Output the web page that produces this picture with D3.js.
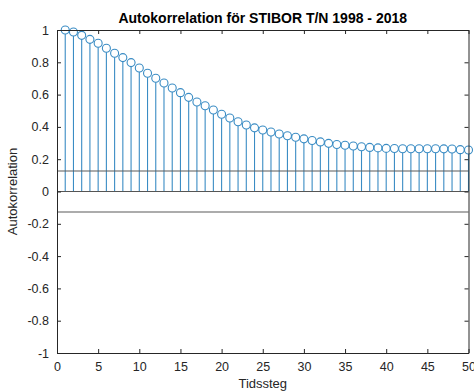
<!DOCTYPE html>
<html>
<head>
<meta charset="utf-8">
<script src="https://cdn.jsdelivr.net/npm/d3@7"></script>
<style>
  html, body { margin: 0; padding: 0; background: #fff; }
  svg { display: block; font-family: "Liberation Sans", Arial, sans-serif; }
</style>
</head>
<body>
<svg id="chart" width="474" height="392"></svg>
<script>
// Sample autocorrelation of STIBOR T/N, index 1..50
const lags = d3.range(1, 51);
const acf = [
  1.000, 0.988, 0.967, 0.942, 0.918, 0.887, 0.856, 0.829, 0.798, 0.765,
  0.732, 0.701, 0.672, 0.641, 0.612, 0.583, 0.554, 0.531, 0.505, 0.478,
  0.455, 0.432, 0.412, 0.394, 0.381, 0.368, 0.356, 0.345, 0.336, 0.326,
  0.316, 0.307, 0.298, 0.291, 0.286, 0.282, 0.277, 0.273, 0.270, 0.267,
  0.266, 0.265, 0.265, 0.265, 0.265, 0.265, 0.264, 0.263, 0.259, 0.257
];
const bounds = [0.127, -0.127];
const xTicks = d3.range(0, 51, 5);
const yTicks = [-1, -0.8, -0.6, -0.4, -0.2, 0, 0.2, 0.4, 0.6, 0.8, 1];
const titleText = "Autokorrelation för STIBOR T/N 1998 - 2018";
const xLabel = "Tidssteg";
const yLabel = "Autokorrelation";

const svg = d3.select("#chart");
const m = { left: 57, right: 468.5, top: 30, bottom: 353 };

const x = d3.scaleLinear().domain([0, 50]).range([m.left, m.right]);
const y = d3.scaleLinear().domain([-1, 1]).range([m.bottom, m.top]);

const axisColor = "#262626";
const stemColor = "#3a8cc4";

const plot = svg.append("g");

// stems
plot.selectAll("line.stem").data(lags).join("line")
  .attr("class", "stem")
  .attr("x1", d => x(d)).attr("x2", d => x(d))
  .attr("y1", y(0)).attr("y2", (d, i) => y(acf[i]) + 4)
  .attr("stroke", stemColor).attr("stroke-width", 1.1);

// zero line and confidence bounds
plot.append("line")
  .attr("x1", m.left).attr("x2", m.right)
  .attr("y1", y(0)).attr("y2", y(0))
  .attr("stroke", "#555").attr("stroke-width", 1.2);
plot.selectAll("line.bound").data(bounds).join("line")
  .attr("class", "bound")
  .attr("x1", m.left).attr("x2", m.right)
  .attr("y1", d => y(d)).attr("y2", d => y(d))
  .attr("stroke", "#5a5a5a").attr("stroke-width", 1.2);

// markers
plot.selectAll("circle.mk").data(lags).join("circle")
  .attr("class", "mk")
  .attr("cx", d => x(d)).attr("cy", (d, i) => y(acf[i]))
  .attr("r", 4)
  .attr("fill", "none").attr("stroke", stemColor).attr("stroke-width", 1.1);

// axes (plain hyphen for negative numbers)
const fmt = d => String(d);
const tickLen = 4;
const xb = svg.append("g").attr("transform", `translate(0,${m.bottom})`)
  .call(d3.axisBottom(x).tickValues(xTicks).tickSizeInner(-tickLen).tickSizeOuter(0).tickPadding(9).tickFormat(fmt));
const xt = svg.append("g").attr("transform", `translate(0,${m.top})`)
  .call(d3.axisTop(x).tickValues(xTicks).tickSizeInner(-tickLen).tickSizeOuter(0).tickFormat(""));
const yl = svg.append("g").attr("transform", `translate(${m.left},0)`)
  .call(d3.axisLeft(y).tickValues(yTicks).tickSizeInner(-tickLen).tickSizeOuter(0).tickPadding(8).tickFormat(fmt));
const yr = svg.append("g").attr("transform", `translate(${m.right},0)`)
  .call(d3.axisRight(y).tickValues(yTicks).tickSizeInner(-tickLen).tickSizeOuter(0).tickFormat(""));

[xb, xt, yl, yr].forEach(g => {
  g.selectAll("path.domain").attr("stroke", axisColor).attr("stroke-width", 1);
  g.selectAll(".tick line").attr("stroke", axisColor);
  g.selectAll("text").attr("fill", axisColor).style("font-size", "12.5px")
    .style("font-family", "'Liberation Sans', Arial, sans-serif");
});

// title and labels
svg.append("text")
  .attr("x", (m.left + m.right) / 2).attr("y", 23)
  .attr("text-anchor", "middle")
  .style("font-size", "14px").style("font-weight", "bold")
  .attr("fill", "#000")
  .text(titleText);

svg.append("text")
  .attr("x", (m.left + m.right) / 2).attr("y", 388)
  .attr("text-anchor", "middle")
  .style("font-size", "13px").attr("fill", axisColor)
  .text(xLabel);

svg.append("text")
  .attr("transform", `translate(17,${(m.top + m.bottom) / 2}) rotate(-90)`)
  .attr("text-anchor", "middle")
  .style("font-size", "13px").attr("fill", axisColor)
  .text(yLabel);
</script>
</body>
</html>
